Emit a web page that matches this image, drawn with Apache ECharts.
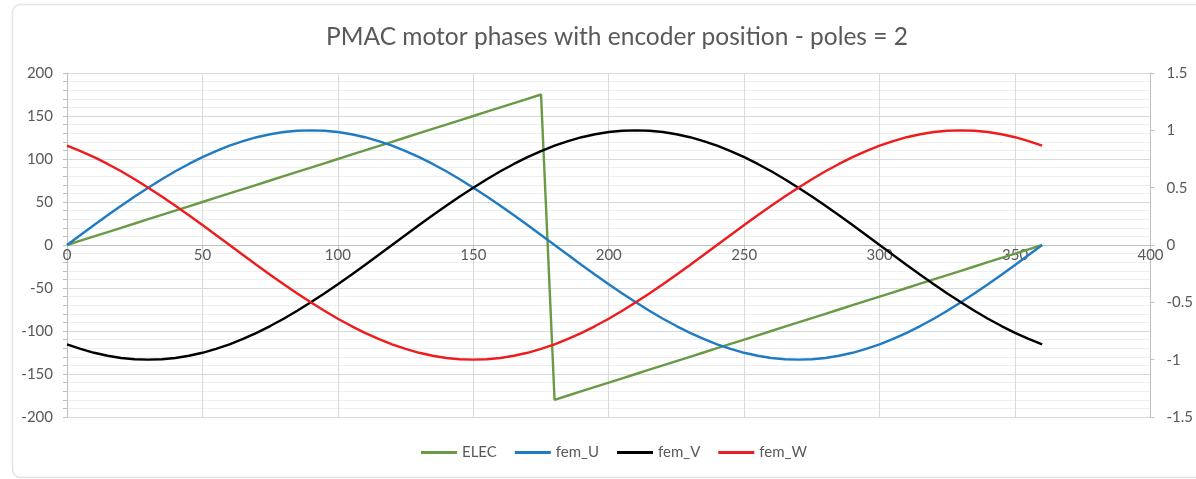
<!DOCTYPE html>
<html>
<head>
<meta charset="utf-8">
<script src="https://cdn.jsdelivr.net/npm/echarts@6/dist/echarts.min.js"></script>
<style>
  html, body { margin: 0; padding: 0; background: #fff; }
  #chart { width: 1196px; height: 479px; }
</style>
</head>
<body>
<div id="chart"></div>
<script>
// Encoder position (degrees)
const position = [
  0, 5, 10, 15, 20, 25, 30, 35, 40, 45, 50, 55, 60, 65, 70, 75, 80, 85, 90,
  95, 100, 105, 110, 115, 120, 125, 130, 135, 140, 145, 150, 155, 160, 165, 170, 175, 180,
  185, 190, 195, 200, 205, 210, 215, 220, 225, 230, 235, 240, 245, 250, 255, 260, 265, 270,
  275, 280, 285, 290, 295, 300, 305, 310, 315, 320, 325, 330, 335, 340, 345, 350, 355, 360
];

// Electrical angle (left axis)
const elec = [
  0, 5, 10, 15, 20, 25, 30, 35, 40, 45, 50, 55, 60, 65, 70, 75, 80, 85, 90,
  95, 100, 105, 110, 115, 120, 125, 130, 135, 140, 145, 150, 155, 160, 165, 170, 175, -180,
  -175, -170, -165, -160, -155, -150, -145, -140, -135, -130, -125, -120, -115, -110, -105, -100, -95, -90,
  -85, -80, -75, -70, -65, -60, -55, -50, -45, -40, -35, -30, -25, -20, -15, -10, -5, 0
];

// Phase back-EMF (right axis)
const femU = [
  0, 0.087, 0.174, 0.259, 0.342, 0.423, 0.5, 0.574, 0.643, 0.707, 0.766, 0.819, 0.866, 0.906, 0.94, 0.966, 0.985, 0.996, 1,
  0.996, 0.985, 0.966, 0.94, 0.906, 0.866, 0.819, 0.766, 0.707, 0.643, 0.574, 0.5, 0.423, 0.342, 0.259, 0.174, 0.087, 0,
  -0.087, -0.174, -0.259, -0.342, -0.423, -0.5, -0.574, -0.643, -0.707, -0.766, -0.819, -0.866, -0.906, -0.94, -0.966, -0.985, -0.996, -1,
  -0.996, -0.985, -0.966, -0.94, -0.906, -0.866, -0.819, -0.766, -0.707, -0.643, -0.574, -0.5, -0.423, -0.342, -0.259, -0.174, -0.087, 0
];
const femV = [
  -0.866, -0.906, -0.94, -0.966, -0.985, -0.996, -1, -0.996, -0.985, -0.966, -0.94, -0.906, -0.866, -0.819, -0.766, -0.707, -0.643, -0.574, -0.5,
  -0.423, -0.342, -0.259, -0.174, -0.087, 0, 0.087, 0.174, 0.259, 0.342, 0.423, 0.5, 0.574, 0.643, 0.707, 0.766, 0.819, 0.866,
  0.906, 0.94, 0.966, 0.985, 0.996, 1, 0.996, 0.985, 0.966, 0.94, 0.906, 0.866, 0.819, 0.766, 0.707, 0.643, 0.574, 0.5,
  0.423, 0.342, 0.259, 0.174, 0.087, 0, -0.087, -0.174, -0.259, -0.342, -0.423, -0.5, -0.574, -0.643, -0.707, -0.766, -0.819, -0.866
];
const femW = [
  0.866, 0.819, 0.766, 0.707, 0.643, 0.574, 0.5, 0.423, 0.342, 0.259, 0.174, 0.087, 0, -0.087, -0.174, -0.259, -0.342, -0.423, -0.5,
  -0.574, -0.643, -0.707, -0.766, -0.819, -0.866, -0.906, -0.94, -0.966, -0.985, -0.996, -1, -0.996, -0.985, -0.966, -0.94, -0.906, -0.866,
  -0.819, -0.766, -0.707, -0.643, -0.574, -0.5, -0.423, -0.342, -0.259, -0.174, -0.087, 0, 0.087, 0.174, 0.259, 0.342, 0.423, 0.5,
  0.574, 0.643, 0.707, 0.766, 0.819, 0.866, 0.906, 0.94, 0.966, 0.985, 0.996, 1, 0.996, 0.985, 0.966, 0.94, 0.906, 0.866
];

const pair = (ys) => position.map((x, i) => [x, ys[i]]);

const FONT = 'Lato, "Open Sans", sans-serif';
const TEXT = '#595959';
const AXIS = '#bfbfbf';

// Plot area box; the x axis sits at the vertical middle (value 0 on both y axes)
const GRID = { left: 67, right: 39, top: 73, bottom: 62 };
const PLOT_H = 479 - GRID.top - GRID.bottom;

const chart = echarts.init(document.getElementById('chart'));

function line(name, ys, color, axis) {
  return {
    name, type: 'line', yAxisIndex: axis, data: pair(ys),
    symbol: 'none', smooth: false,
    lineStyle: { color, width: 2.4 }, itemStyle: { color },
    z: 3
  };
}

chart.setOption({
  animation: false,
  backgroundColor: '#fff',
  graphic: [{
    type: 'rect', silent: true, z: -10,
    shape: { x: 12.5, y: 4.5, width: 1200, height: 473, r: 8 },
    style: { fill: 'none', stroke: '#e3e3e3', lineWidth: 1.5 }
  }, {
    type: 'text', silent: true,
    x: 617, y: 37,
    style: {
      text: 'PMAC motor phases with encoder position - poles = 2',
      fontFamily: FONT, fontSize: 24.5, fill: TEXT,
      align: 'center', verticalAlign: 'middle'
    }
  }],
  legend: {
    bottom: 14, left: 416,
    icon: 'rect', itemWidth: 36, itemHeight: 3, itemGap: 18,
    textStyle: { fontFamily: FONT, fontSize: 15, color: TEXT },
    data: ['ELEC', 'fem_U', 'fem_V', 'fem_W']
  },
  grid: Object.assign({ containLabel: false }, GRID),
  xAxis: {
    type: 'value', min: 0, max: 400, interval: 50,
    position: 'bottom', offset: -PLOT_H / 2,
    axisLine: { onZero: false, lineStyle: { color: AXIS, width: 1 } },
    axisTick: { show: true, inside: false, length: 4, lineStyle: { color: AXIS } },
    axisLabel: { margin: 3, fontFamily: FONT, fontSize: 15, color: TEXT },
    splitLine: { show: true, lineStyle: { color: '#d9d9d9', width: 1 } }
  },
  yAxis: [{
    type: 'value', min: -200, max: 200, interval: 50, position: 'left',
    axisLine: { show: true, onZero: false, lineStyle: { color: AXIS } },
    axisTick: { show: true, length: 4, lineStyle: { color: AXIS } },
    minorTick: { show: true, splitNumber: 5, length: 4, lineStyle: { color: AXIS } },
    axisLabel: { margin: 14, fontFamily: FONT, fontSize: 15, color: TEXT },
    splitLine: { show: true, lineStyle: { color: '#d9d9d9', width: 1 } },
    minorSplitLine: { show: true, lineStyle: { color: '#efefef', width: 1 } }
  }, {
    type: 'value', min: -1.5, max: 1.5, interval: 0.5, position: 'right',
    axisLine: { show: true, onZero: false, lineStyle: { color: AXIS } },
    axisTick: { show: true, length: 4, lineStyle: { color: AXIS } },
    axisLabel: { margin: 16, fontFamily: FONT, fontSize: 15, color: TEXT },
    splitLine: { show: false }
  }],
  series: [
    line('ELEC', elec, '#6a9a45', 0),
    line('fem_U', femU, '#1f7bc4', 1),
    line('fem_V', femV, '#000000', 1),
    line('fem_W', femW, '#ee1c1c', 1)
  ]
});
</script>
</body>
</html>
